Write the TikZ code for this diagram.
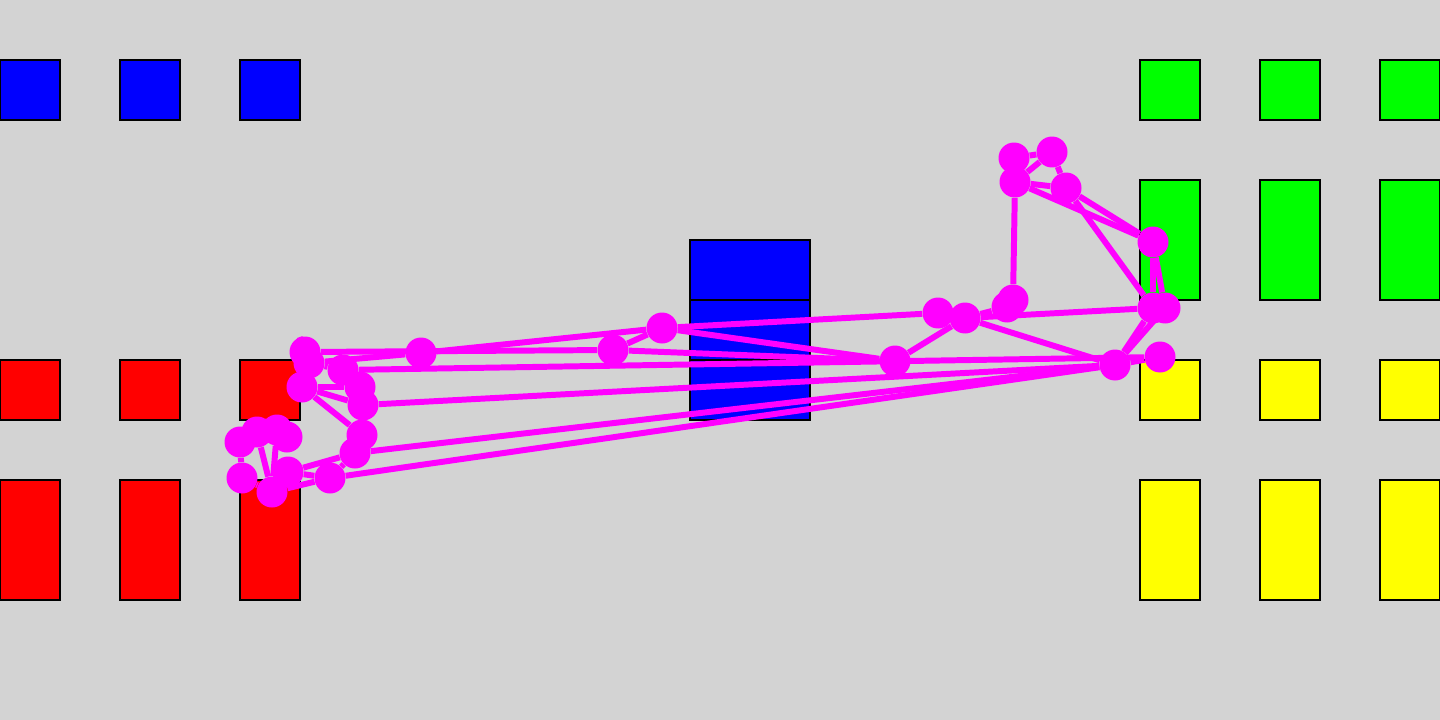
\documentclass[tikz,border=0pt]{standalone}
\usetikzlibrary{positioning}
\definecolor{bggray}{RGB}{211,211,211}
\definecolor{traj}{RGB}{255,0,255}
\definecolor{shelfblue}{RGB}{0,0,255}
\definecolor{shelfred}{RGB}{255,0,0}
\definecolor{shelfgreen}{RGB}{0,255,0}
\definecolor{shelfyellow}{RGB}{255,255,0}
\begin{document}
\begin{tikzpicture}[x=0.02cm,y=-0.02cm,
  box/.style={draw=black, line width=1.4pt},
  dot/.style={circle, fill=traj, inner sep=0pt, minimum size=0.62cm},
  leg/.style={draw=traj, line width=3.4pt}]
  \useasboundingbox (0,0) rectangle (1440,720);
  \fill[bggray] (0,0) rectangle (1440,720);

  % shelves
  \foreach \x in {0,120,240} {
    \draw[box, fill=shelfblue] (\x,60) rectangle ++(60,60);
    \draw[box, fill=shelfred] (\x,360) rectangle ++(60,60);
    \draw[box, fill=shelfred] (\x,480) rectangle ++(60,120);
  }
  \foreach \x in {1140,1260,1380} {
    \draw[box, fill=shelfgreen] (\x,60) rectangle ++(60,60);
    \draw[box, fill=shelfgreen] (\x,180) rectangle ++(60,120);
    \draw[box, fill=shelfyellow] (\x,360) rectangle ++(60,60);
    \draw[box, fill=shelfyellow] (\x,480) rectangle ++(60,120);
  }
  \foreach \y in {240,300,360}
    \draw[box, fill=shelfblue] (690,\y) rectangle ++(120,60);

  % waypoints
  \foreach \n/\x/\y in {l1/305/352, l2/309/363, l3/343/370, l4/360/387,
      l5/363/405, l6/362/435, l7/355/453, l8/330/478, l9/302/387,
      l10/257/432, l11/277/430, l12/287/437, l13/240/442, l14/242/478,
      l15/272/492, l16/288/472,
      m1/421/353, m2/613/350, m3/662/328, m4/895/361, m5/938/313, m6/965/318,
      r1/1014/158, r2/1052/152, r3/1015/182, r4/1066/188, r5/1153/242,
      r6/1013/300, r7/1007/307, r8/1153/308, r9/1165/308, r10/1160/357,
      r11/1115/365}
    \node[dot] (\n) at (\x,\y) {};

  % path legs
  \foreach \a/\b in {l1/l2, l2/l3, l3/l4, l4/l5, l5/l6, l6/l7, l7/l8,
      l2/l9, l9/l4, l9/l5, l9/l6, l10/l11, l11/l12, l10/l13, l13/l14,
      l10/l15, l11/l15, l14/l15, l15/l16, l16/l7, l16/l8, l15/l8,
      l1/m2, l2/m1, m1/m3, m2/m3, m2/m4, m3/m4, m3/m5, m4/m6, m5/m6,
      l3/r10, l5/r11, l7/r11, l8/r11,
      m6/r7, m6/r8, m6/r11, r8/r11, r9/r11, r10/r11,
      r6/r3, r3/r1, r1/r2, r2/r3, r2/r4, r3/r4, r3/r5, r4/r5, r4/r8,
      r5/r8, r5/r9}
    \draw[leg] (\a) -- (\b);
\end{tikzpicture}
\end{document}
